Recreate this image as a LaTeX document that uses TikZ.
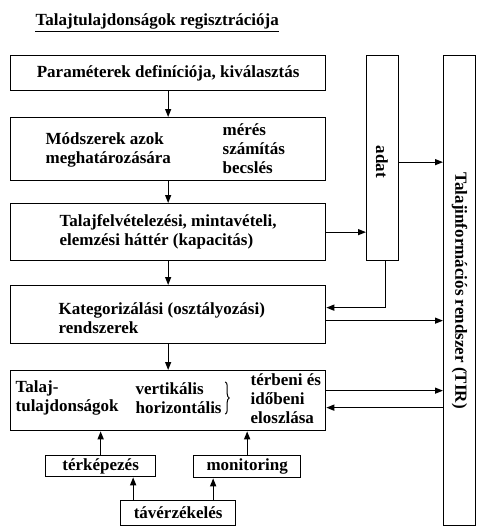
\documentclass[tikz,border=0pt]{standalone}
\usepackage{fontspec}
\setmainfont{Liberation Serif}
\usetikzlibrary{arrows.meta,decorations.pathreplacing}

\begin{document}
\begin{tikzpicture}[x=1pt,y=-1pt,line width=1.3pt,
  box/.style n args={2}{draw,rectangle,anchor=north west,minimum width=#1pt,minimum height=#2pt,inner sep=0pt},
  txt/.style={font=\bfseries\fontsize{17}{19}\selectfont,align=left,inner sep=0pt},
  arr/.style={-{Triangle[length=8pt,width=6pt]}}]
\useasboundingbox (0,0) rectangle (480,531);
% title
\node[txt,anchor=west] (title) at (35,21) {Talajtulajdonságok regisztrációja};
\draw[line width=1pt] ([yshift=-2pt]title.south west) -- ([yshift=-2pt]title.south east);
% main column
\node[box={315}{35},txt,align=center] (par) at (10,55) {Paraméterek definíciója, kiválasztás};
\node[box={315}{63}] (mod) at (10,117) {};
\node[txt,anchor=west] (modl) at (45,150) {Módszerek azok\\meghatározására};
\node[txt,anchor=west] (modr) at (222,149) {mérés\\számítás\\becslés};
\node[box={315}{57},txt] (hat) at (10,203) {Talajfelvételezési, mintavételi,\\elemzési háttér (kapacitás)};
\node[box={315}{58}] (kat) at (10,285) {};
\node[txt,anchor=west] (katt) at (58,318) {Kategorizálási (osztályozási)\\rendszerek};
\node[box={315}{60}] (tul) at (10,370) {};
\node[txt,anchor=west] (tull) at (15,398) {Talaj-\\tulajdonságok};
\node[txt,anchor=west] (ver) at (135,398) {vertikális\\horizontális};
\node[txt,anchor=west] (ter) at (250,399) {térbeni és\\időbeni\\eloszlása};
\draw[line width=1pt,decorate,decoration={brace,amplitude=4pt}] ([xshift=3pt]ver.north east) -- ([xshift=3pt]ver.south east);
% side boxes
\node[box={32}{205}] (adat) at (366,55) {};
\node[txt,rotate=-90] (adatt) at (382,162) {adat};
\node[box={32}{470}] (tir) at (443,55) {};
\node[txt,rotate=-90] (tirt) at (tir.center) {Talajinformációs rendszer (TIR)};
% lower boxes
\node[box={110}{21},txt,align=center] (terk) at (45,455) {térképezés};
\node[box={107}{22},txt,align=center] (mon) at (193,455) {monitoring};
\node[box={115}{25},txt,align=center] (tav) at (120,500) {távérzékelés};
% connectors
\draw[arr] (par) -- (mod);
\draw[arr] (mod) -- (hat);
\draw[arr] (hat) -- (kat);
\draw[arr] (kat) -- (tul);
\draw[arr] (hat.east) -- (hat.east -| adat.west);
\draw[arr] ([yshift=-4pt]adat.east) -- ([yshift=-4pt]adat.east -| tir.west);
\coordinate (k1) at ([yshift=7pt]kat.east);
\coordinate (k2) at ([yshift=-6pt]kat.east);
\coordinate (a1) at ([xshift=3pt]adat.south);
\draw[arr] (a1) |- (k1);
\draw[arr] (k2) -- (k2 -| tir.west);
\coordinate (u1) at ([yshift=10pt]tul.east);
\coordinate (u2) at ([yshift=-7pt]tul.east);
\draw[arr] (u1) -- (u1 -| tir.west);
\draw[arr] (u2 -| tir.west) -- (u2);
\draw[arr] (terk.north) -- (terk.north |- tul.south);
\draw[arr] (mon.north) -- (mon.north |- tul.south);
\coordinate (t1) at ([xshift=-45pt]tav.north);
\coordinate (t2) at ([xshift=35pt]tav.north);
\draw[arr] (t1) -- (t1 |- terk.south);
\draw[arr] (t2) -- (t2 |- mon.south);
\end{tikzpicture}
\end{document}
